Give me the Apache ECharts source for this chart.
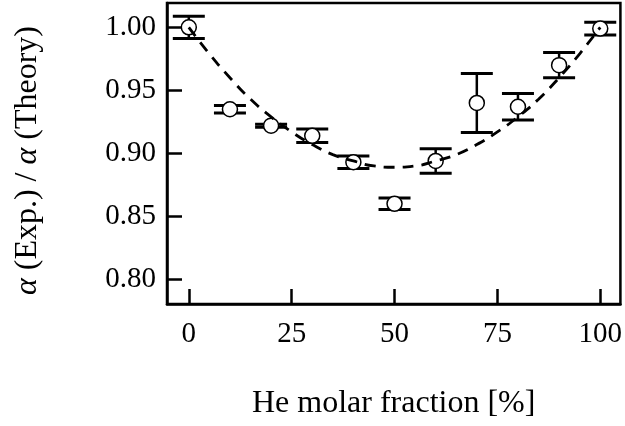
<!DOCTYPE html>
<html>
<head>
<meta charset="utf-8">
<script src="https://cdn.jsdelivr.net/npm/echarts@6/dist/echarts.min.js"></script>
<style>
  html, body { margin: 0; padding: 0; background: #fff; }
  #chart { width: 625px; height: 426px; }
</style>
</head>
<body>
<div id="chart"></div>
<script>
// measured points (He fraction %, ratio, error half-width)
const fractions = [0, 10, 20, 30, 40, 50, 60, 70, 80, 90, 100];
const ratios = [1.000, 0.935, 0.922, 0.914, 0.893, 0.860, 0.894, 0.940, 0.937, 0.970, 0.999];
const errors = [0.0088, 0.003, 0.0012, 0.0053, 0.005, 0.0046, 0.0097, 0.0234, 0.0105, 0.0101, 0.005];

// dashed guide curve
const curveX = [0, 5, 10, 15, 20, 25, 30, 35, 40, 45, 50, 55, 60, 65, 70, 75, 80, 85, 90, 95, 100];
const curveY = [1.000, 0.979, 0.960, 0.943, 0.929, 0.917, 0.907, 0.899, 0.894, 0.890, 0.889,
                0.890, 0.894, 0.899, 0.907, 0.917, 0.929, 0.943, 0.960, 0.979, 1.000];

const xTicks = [0, 25, 50, 75, 100];
const yTicks = [0.80, 0.85, 0.90, 0.95, 1.00];

const font = 'Liberation Serif';

const chart = echarts.init(document.getElementById('chart'));

const errData = fractions.map(function (x, i) {
    return [x, ratios[i] - errors[i], ratios[i] + errors[i]];
});

const option = {
    animation: false,
    grid: {
        left: 167, right: 4, top: 3, bottom: 122,
        show: true, borderColor: '#000', borderWidth: 2.5
    },
    xAxis: {
        type: 'value',
        min: -5.3, max: 104.9,
        name: 'He molar fraction [%]',
        nameLocation: 'middle',
        nameGap: 84,
        nameTextStyle: { fontFamily: font, fontSize: 32, color: '#000' },
        splitLine: { show: false },
        axisLine: { onZero: false, lineStyle: { color: '#000', width: 2.5 } },
        axisTick: { inside: true, length: 15, customValues: xTicks, lineStyle: { color: '#000', width: 2.5 } },
        axisLabel: { customValues: xTicks, margin: 16, fontFamily: font, fontSize: 29, color: '#000' }
    },
    yAxis: {
        type: 'value',
        min: 0.7805, max: 1.0193,
        name: '{i|α} (Exp.) / {i|α} (Theory)',
        nameLocation: 'middle',
        nameGap: 123,
        nameTextStyle: {
            fontFamily: font, fontSize: 32, color: '#000',
            padding: [0, 14, 0, 0],
            rich: { i: { fontFamily: font, fontSize: 32, fontStyle: 'italic', color: '#000' } }
        },
        splitLine: { show: false },
        axisLine: { onZero: false, lineStyle: { color: '#000', width: 2.5 } },
        axisTick: { inside: true, length: 15, customValues: yTicks, lineStyle: { color: '#000', width: 2.5 } },
        axisLabel: {
            customValues: yTicks, margin: 11, fontFamily: font, fontSize: 29, color: '#000',
            formatter: function (v) { return v.toFixed(2); }
        }
    },
    series: [
        {
            type: 'custom',
            z: 1,
            data: errData,
            renderItem: function (params, api) {
                const lo = api.coord([api.value(0), api.value(1)]);
                const hi = api.coord([api.value(0), api.value(2)]);
                const hw = 16;
                const stem = { stroke: '#000', lineWidth: 2.5 };
                const cap = { stroke: '#000', lineWidth: 3 };
                return {
                    type: 'group',
                    children: [
                        { type: 'line', shape: { x1: lo[0], y1: lo[1], x2: hi[0], y2: hi[1] }, style: stem },
                        { type: 'line', shape: { x1: lo[0] - hw, y1: lo[1], x2: lo[0] + hw, y2: lo[1] }, style: cap },
                        { type: 'line', shape: { x1: hi[0] - hw, y1: hi[1], x2: hi[0] + hw, y2: hi[1] }, style: cap }
                    ]
                };
            }
        },
        {
            type: 'scatter',
            z: 2,
            symbol: 'circle',
            symbolSize: 15,
            itemStyle: { color: '#fff', borderColor: '#000', borderWidth: 1.5, opacity: 1 },
            data: fractions.map(function (x, i) { return [x, ratios[i]]; })
        },
        {
            type: 'line',
            z: 3,
            smooth: true,
            symbol: 'none',
            lineStyle: { color: '#000', width: 2.8, type: [11, 8] },
            data: curveX.map(function (x, i) { return [x, curveY[i]]; })
        }
    ]
};

chart.setOption(option);
</script>
</body>
</html>
